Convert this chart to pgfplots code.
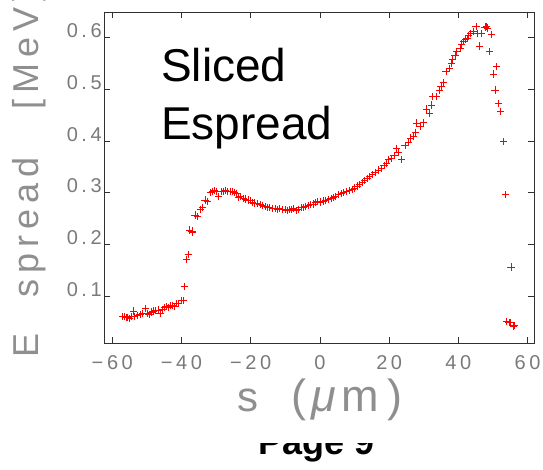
\documentclass[border=0pt]{standalone}
\usepackage{fontspec}
\setmainfont{Liberation Sans}
\newfontfamily\tickfont[LetterSpace=18]{Liberation Sans}
\newfontfamily\labfont[LetterSpace=17]{Liberation Sans}
\usepackage{pgfplots}
\pgfplotsset{compat=1.18}
\definecolor{labgray}{HTML}{8F8F8F}
\definecolor{tickgray}{HTML}{7A7A7A}
\definecolor{axgray}{HTML}{303030}
\begin{document}
\begin{tikzpicture}[x=1pt,y=1pt]
\useasboundingbox (0,0) rectangle (543,470);
\clip (0,0) rectangle (543,470);
\begin{axis}[
  at={(104pt,127pt)}, anchor=south west,
  width=430pt, height=331pt, scale only axis,
  xmin=-62.4, xmax=61.85, ymin=0.009, ymax=0.65,
  axis line style={axgray, line width=0.8pt},
  tick style={axgray, line width=0.8pt},
  tick align=inside, tick pos=both, ticklabel pos=left,
  major tick length=6pt,
  xtick={-60,-40,-20,0,20,40,60},
  xticklabels={−60,−40,−20,0,20,40,60},
  ytick={0.1,0.2,0.3,0.4,0.5,0.6},
  yticklabels={0.1,0.2,0.3,0.4,0.5,0.6},
  xticklabel style={font=\tickfont\fontsize{20}{20}\selectfont, text=tickgray, anchor=base, inner sep=0pt, yshift=-27pt},
  yticklabel style={font=\tickfont\fontsize{20}{20}\selectfont, text=tickgray, anchor=base east, inner sep=0pt, xshift=-2pt},
]
\addplot[only marks, mark=+, mark size=3.6pt, draw=red, color=red, mark options={draw=red, line width=0.8pt}] table {
x y
-57.0 0.060
-56.5 0.061
-56.0 0.058
-55.5 0.059
-55.0 0.057
-54.5 0.060
-53.8 0.071
-53.5 0.061
-52.8 0.062
-52.0 0.064
-51.2 0.066
-50.5 0.076
-50.0 0.066
-49.4 0.064
-48.8 0.069
-48.2 0.071
-47.5 0.072
-46.8 0.073
-46.2 0.067
-45.6 0.074
-45.0 0.078
-44.4 0.079
-43.8 0.077
-43.2 0.081
-42.6 0.082
-42.0 0.080
-41.4 0.085
-40.8 0.086
-40.0 0.092
-39.5 0.091
-39.2 0.119
-38.5 0.170
-38.1 0.181
-37.6 0.228
-37.0 0.226
-36.8 0.224
-36.1 0.257
-35.3 0.254
-34.5 0.268
-34.0 0.272
-33.2 0.286
-32.6 0.283
-31.6 0.300
-31.0 0.303
-30.4 0.304
-29.8 0.302
-29.3 0.292
-28.6 0.302
-28.0 0.303
-27.3 0.305
-26.7 0.303
-26.0 0.303
-25.4 0.302
-24.8 0.301
-24.2 0.299
-23.6 0.291
-23.0 0.293
-22.2 0.289
-21.5 0.288
-20.8 0.286
-20.2 0.285
-19.4 0.281
-18.8 0.280
-18.0 0.279
-17.3 0.277
-16.6 0.276
-15.9 0.273
-15.2 0.272
-14.5 0.271
-13.8 0.270
-13.0 0.269
-12.3 0.268
-11.6 0.269
-10.8 0.267
-10.1 0.268
-9.5 0.266
-8.8 0.268
-8.2 0.267
-7.6 0.269
-6.9 0.266
-6.2 0.268
-5.5 0.271
-4.8 0.272
-4.1 0.274
-3.4 0.275
-2.8 0.277
-2.0 0.278
-1.3 0.281
-0.6 0.283
0.2 0.282
0.9 0.284
1.7 0.285
2.4 0.287
3.2 0.289
3.9 0.291
4.6 0.293
5.4 0.296
6.2 0.298
6.9 0.301
7.7 0.302
8.5 0.305
9.3 0.307
10.0 0.309
10.7 0.313
11.4 0.316
12.2 0.320
12.9 0.324
13.6 0.328
14.4 0.331
15.2 0.335
15.9 0.339
16.8 0.344
17.8 0.347
18.5 0.352
19.2 0.357
19.9 0.364
20.6 0.366
21.4 0.372
22.0 0.386
22.6 0.378
23.6 0.365
24.6 0.391
25.5 0.398
26.2 0.406
27.0 0.410
27.5 0.417
27.9 0.435
28.9 0.429
29.9 0.436
30.8 0.462
31.6 0.453
32.2 0.470
32.6 0.486
33.5 0.486
34.5 0.499
35.0 0.505
35.7 0.513
36.4 0.535
37.4 0.541
37.9 0.550
38.4 0.559
39.0 0.565
39.5 0.573
40.5 0.580
41.0 0.588
41.4 0.593
42.0 0.596
42.6 0.599
43.0 0.605
43.5 0.609
44.2 0.612
45.1 0.622
45.5 0.609
46.1 0.584
46.7 0.609
47.7 0.621
48.1 0.622
48.4 0.619
48.9 0.573
49.6 0.606
50.1 0.530
50.6 0.499
51.1 0.544
51.7 0.473
52.2 0.457
53.0 0.399
53.7 0.296
55.2 0.156
54.0 0.050
54.6 0.049
54.9 0.048
55.9 0.041
56.3 0.043
};
\end{axis}
% Sliced Espread annotation
\node[anchor=base west, inner sep=0pt, font=\fontsize{46}{46}\selectfont] at (161,388) {Sliced};
\node[anchor=base west, inner sep=0pt, font=\fontsize{46}{46}\selectfont] at (161,330) {Espread};
% y label
\node[rotate=90, anchor=base west, inner sep=0pt, text=labgray, font=\labfont\fontsize{36}{36}\selectfont] at (38,112) {E};
\node[rotate=90, anchor=base west, inner sep=0pt, text=labgray, font=\labfont\fontsize{36}{36}\selectfont] at (38,172) {spread};
\node[rotate=90, anchor=base west, inner sep=0pt, text=labgray, font=\labfont\fontsize{36}{36}\selectfont] at (38,360) {[MeV]};
% x label
\node[anchor=base west, inner sep=0pt, text=labgray, font=\fontsize{42}{42}\selectfont] at (237,58) {s};
\node[anchor=base west, inner sep=0pt, text=labgray] at (291,58) {{\fontsize{45}{45}\selectfont(}\hspace{5pt}{\fontsize{45}{45}\selectfont\itshape μ}\hspace{6pt}{\fontsize{45}{45}\selectfont m}\hspace{8pt}{\fontsize{45}{45}\selectfont)}};
% Page 9
\node[anchor=base west, inner sep=0pt, font=\bfseries\fontsize{36}{36}\selectfont] at (258,15) {Page 9};
\fill[white] (240,27) rectangle (400,45);
\end{tikzpicture}
\end{document}
